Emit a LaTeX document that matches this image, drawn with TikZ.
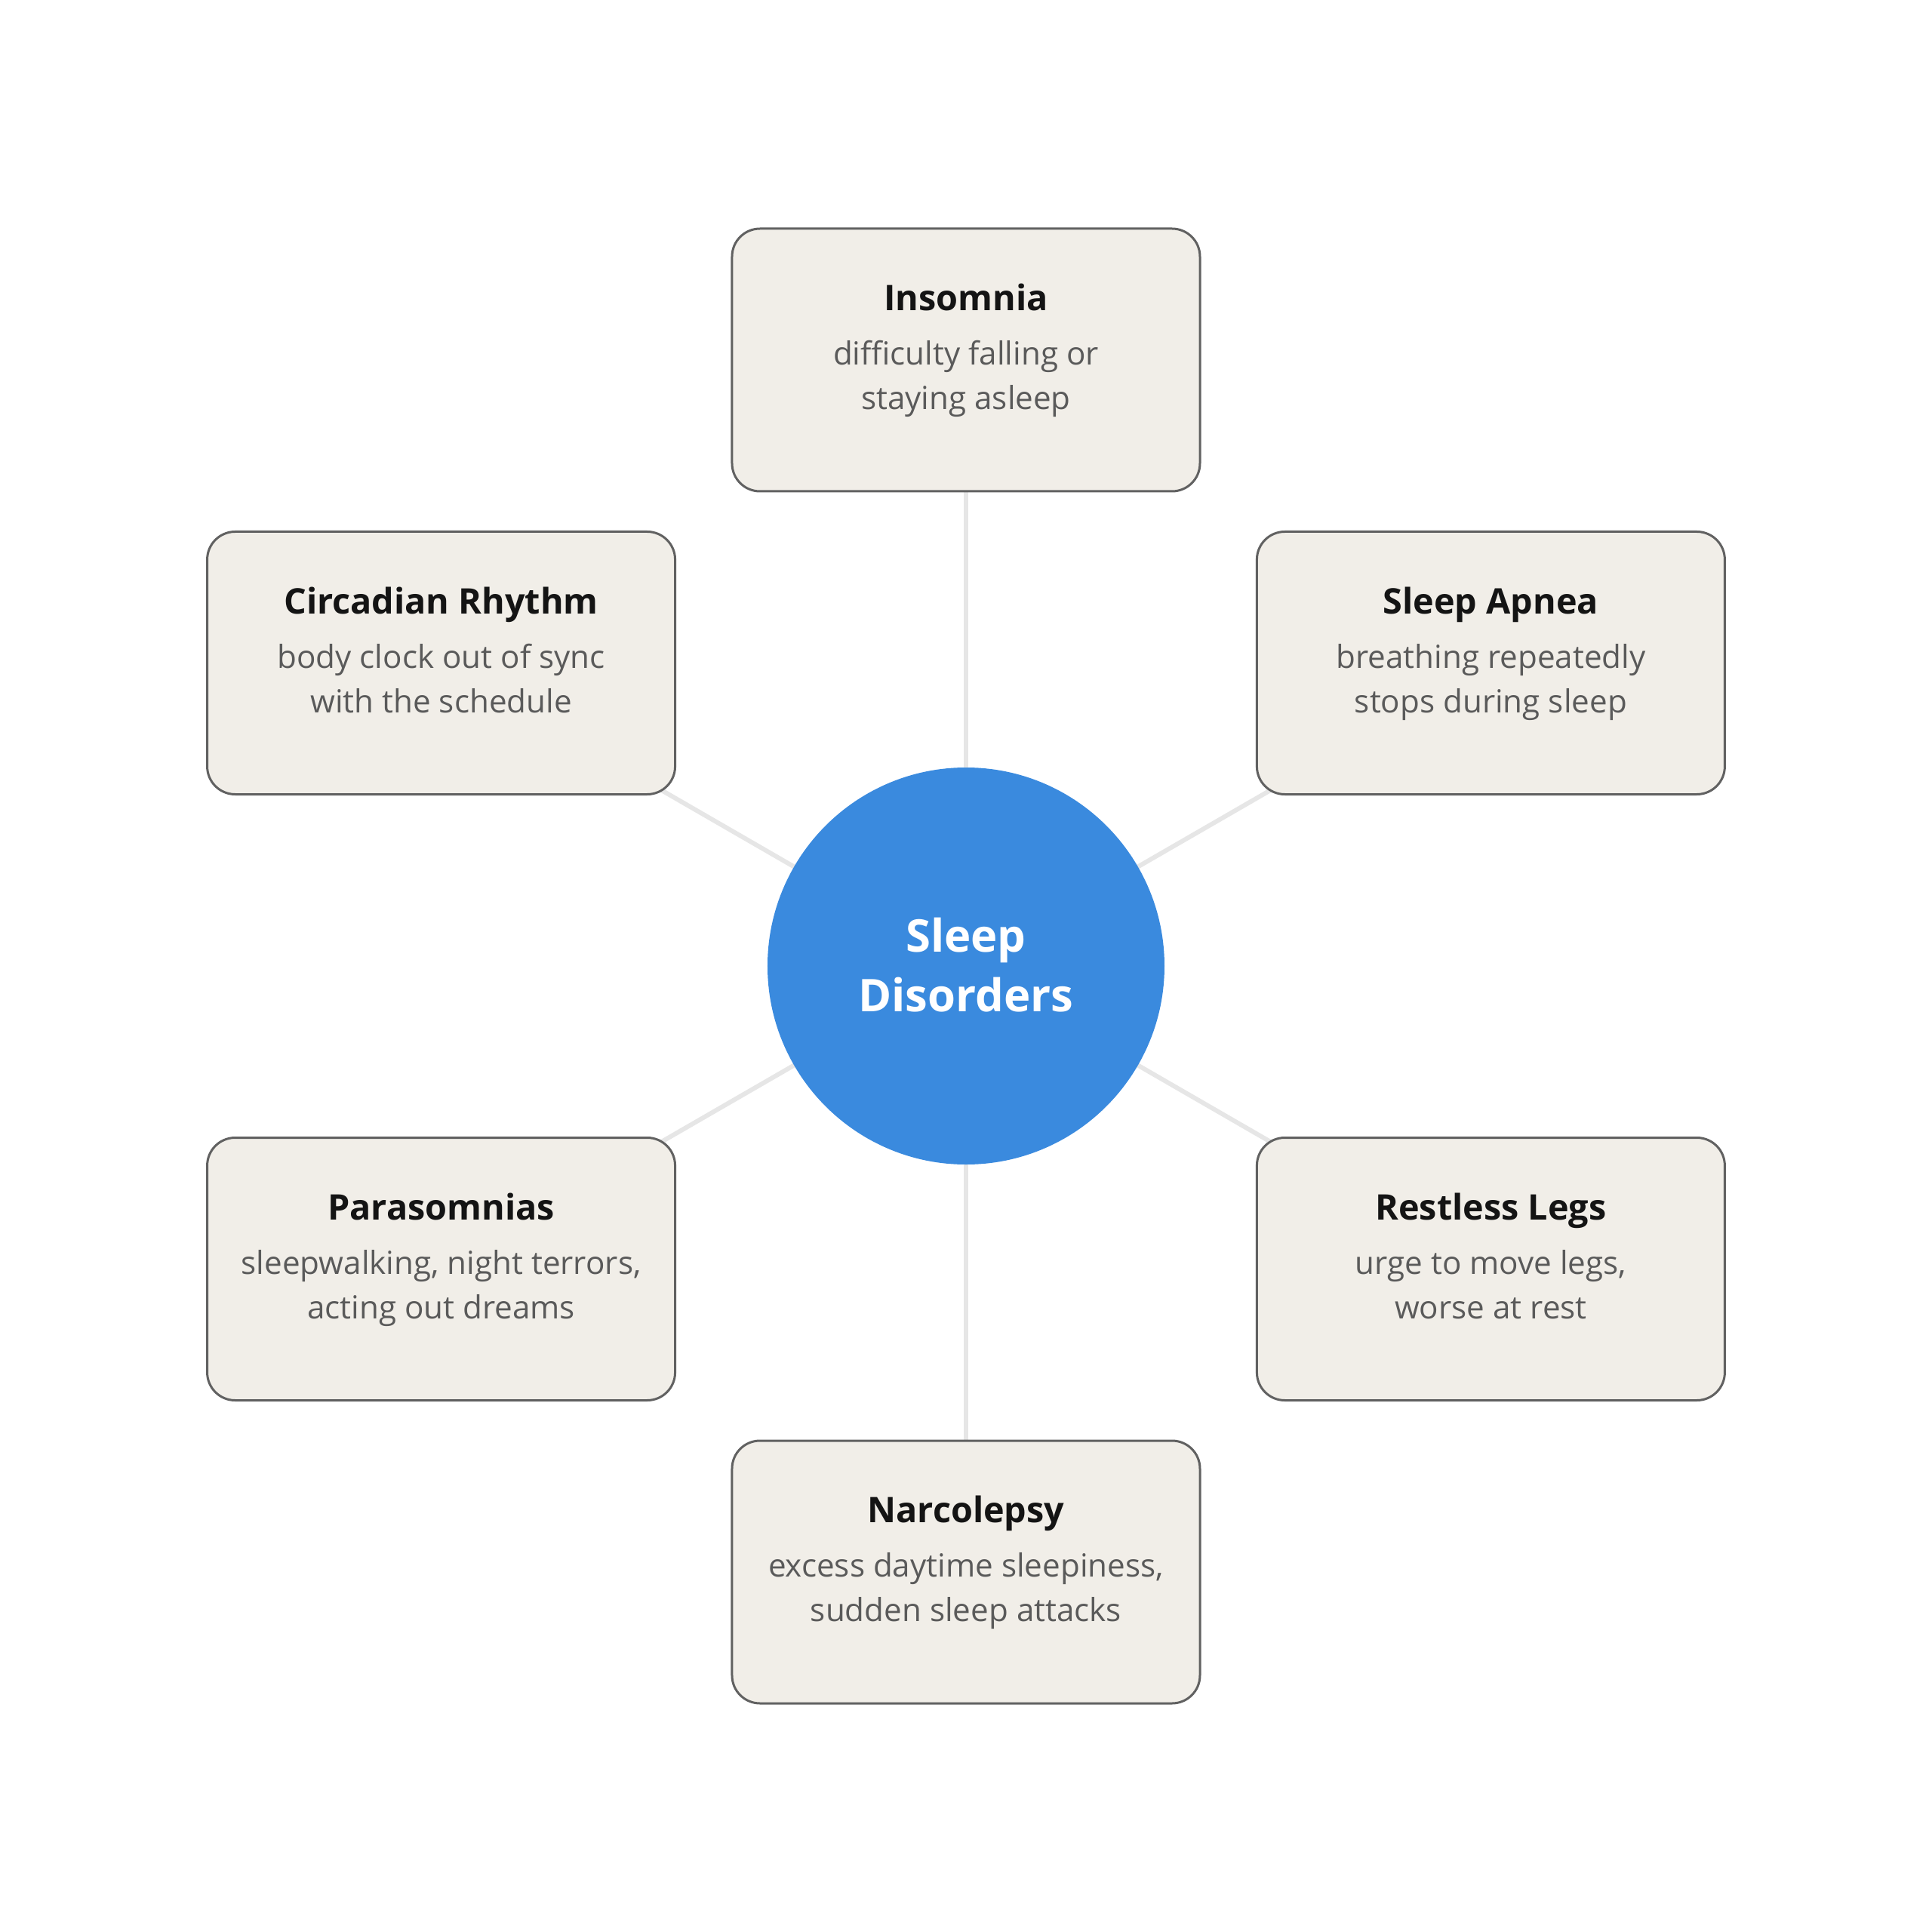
\documentclass[tikz,border=0pt]{standalone}
\usepackage{fontspec}
\setmainfont{Open Sans}
\usetikzlibrary{backgrounds}

\definecolor{hubblue}{HTML}{3A8ADE}
\definecolor{boxfill}{HTML}{F1EEE8}
\definecolor{boxline}{HTML}{616161}
\definecolor{spoke}{HTML}{E6E6E6}
\definecolor{titlecol}{HTML}{141414}
\definecolor{desccol}{HTML}{5A5A5A}

\newcommand{\dtitle}[1]{{\fontsize{13.3}{16.8}\selectfont\bfseries\color{titlecol}#1}}

\begin{document}
\begin{tikzpicture}[
    hub/.style={circle, fill=hubblue, minimum size=5.26cm, inner sep=0pt,
        align=center, text=white, text depth=0.04cm,
        font=\fontsize{17}{22.4}\selectfont\bfseries},
    dbox/.style={rectangle, rounded corners=0.37cm, draw=boxline,
        line width=0.03cm, fill=boxfill, minimum width=6.2cm,
        minimum height=3.48cm, inner sep=0pt, align=center, text=desccol,
        text depth=0.35cm, font=\fontsize{12}{16.8}\selectfont},
    spokeline/.style={draw=spoke, line width=0.06cm}
]

    \useasboundingbox (-12.8, -12.8) rectangle (12.8, 12.8);

    % Centre
    \node[hub] (hub) at (0, 0) {Sleep\\Disorders};

    % Disorders round the centre
    \node[dbox] (ins) at (90:8.03)  {\dtitle{Insomnia}\\[3.8pt] difficulty falling or\\ staying asleep};
    \node[dbox] (apn) at (30:8.03)  {\dtitle{Sleep Apnea}\\[3.8pt] breathing repeatedly\\ stops during sleep};
    \node[dbox] (rls) at (-30:8.03) {\dtitle{Restless Legs}\\[3.8pt] urge to move legs,\\ worse at rest};
    \node[dbox] (nar) at (-90:8.03) {\dtitle{Narcolepsy}\\[3.8pt] excess daytime sleepiness,\\ sudden sleep attacks};
    \node[dbox] (par) at (210:8.03) {\dtitle{Parasomnias}\\[3.8pt] sleepwalking, night terrors,\\ acting out dreams};
    \node[dbox] (cir) at (150:8.03) {\dtitle{Circadian Rhythm}\\[3.8pt] body clock out of sync\\ with the schedule};

    % Spokes behind everything
    \begin{scope}[on background layer]
        \draw[spokeline] (hub.center) -- (ins.center);
        \draw[spokeline] (hub.center) -- (apn.center);
        \draw[spokeline] (hub.center) -- (rls.center);
        \draw[spokeline] (hub.center) -- (nar.center);
        \draw[spokeline] (hub.center) -- (par.center);
        \draw[spokeline] (hub.center) -- (cir.center);
    \end{scope}

\end{tikzpicture}
\end{document}
